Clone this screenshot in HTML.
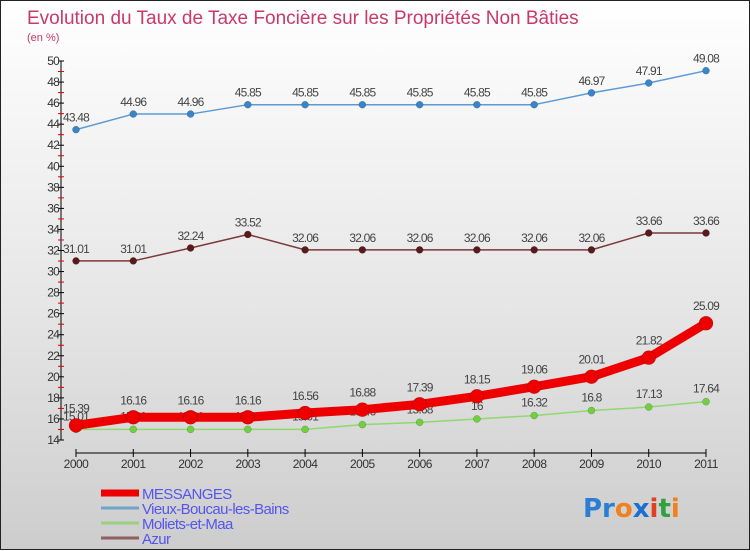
<!DOCTYPE html>
<html><head><meta charset="utf-8"><style>
body{margin:0;width:750px;height:550px;overflow:hidden;font-family:"Liberation Sans",sans-serif}
#wrap{position:relative;width:748px;height:548px;border:1px solid #222;background:linear-gradient(#ffffff 0%,#e6e6e6 55%,#cdcdcd 100%)}
svg{position:absolute;left:0;top:0}
</style></head><body>
<div id="wrap">
<svg id="chart" width="750" height="550">
<text x="26" y="23" font-size="19" fill="#c8396a">Evolution du Taux de Taxe Foncière sur les Propriétés Non Bâties</text>
<text x="26" y="40" font-size="11" fill="#c8396a">(en %)</text>
</svg>
</div>
<script>
const years=["2000","2001","2002","2003","2004","2005","2006","2007","2008","2009","2010","2011"];
const messanges=[15.39,16.16,16.16,16.16,16.56,16.88,17.39,18.15,19.06,20.01,21.82,25.09];
const vieux=[43.48,44.96,44.96,45.85,45.85,45.85,45.85,45.85,45.85,46.97,47.91,49.08];
const moliets=[15.01,15.01,15.01,15.01,15.01,15.46,15.68,16,16.32,16.8,17.13,17.64];
const azur=[31.01,31.01,32.24,33.52,32.06,32.06,32.06,32.06,32.06,32.06,33.66,33.66];
const yTicks=[14,16,18,20,22,24,26,28,30,32,34,36,38,40,42,44,46,48,50];
const seriesNames=["MESSANGES","Vieux-Boucau-les-Bains","Moliets-et-Maa","Azur"];

const svg=document.getElementById('chart');
const NS='http://www.w3.org/2000/svg';
const yMin=14,yMax=50,yTop=60,yBot=439;
const xL=75,xR=705;
const X=i=>xL+(xR-xL)*i/(years.length-1);
const Y=v=>yBot-(v-yMin)/(yMax-yMin)*(yBot-yTop);
function mk(tag,attrs,parent){const e=document.createElementNS(NS,tag);for(const k in attrs)e.setAttribute(k,attrs[k]);(parent||svg).appendChild(e);return e;}

// axes
const yAxis=mk('line',{x1:60,y1:Y(yMax),x2:60,y2:Y(yMin),stroke:'#000','stroke-width':1});


for(let v=yMin;v<yMax;v++){
  if(v%2===1){const t=mk('line',{x1:57,y1:Y(v),x2:63,y2:Y(v),stroke:'#e00000','stroke-width':1});
  
  }
}
yTicks.forEach(v=>{
  const t=mk('line',{x1:57,y1:Y(v),x2:63,y2:Y(v),stroke:'#000','stroke-width':1});
  
  
  const l=mk('text',{x:58,y:Y(v)+4,'font-size':12,'text-anchor':'end',fill:'#333','letter-spacing':'-0.8'});
  l.textContent=v;
  
  
});
const xAxis=mk('line',{x1:X(0),y1:452,x2:X(years.length-1),y2:452,stroke:'#000','stroke-width':1});


years.forEach((yr,i)=>{
  const t=mk('line',{x1:X(i),y1:448,x2:X(i),y2:456,stroke:'#000'});
  
  
  const l=mk('text',{x:X(i),y:467,'font-size':12,'text-anchor':'middle',fill:'#333','letter-spacing':'-0.5'});
  l.textContent=yr;
  
  
});

function series(data,color,lw,r,fill,name,labelOff){
  const pts=data.map((v,i)=>X(i)+','+Y(v)).join(' ');
  const pl=mk('polyline',{points:pts,fill:'none',stroke:color,'stroke-width':lw,'stroke-linejoin':'round'});
  
  
  data.forEach((v,i)=>{
    const c=mk('circle',{cx:X(i),cy:Y(v),r:r,fill:fill,stroke:'rgba(0,0,0,0.3)','stroke-width':0.5});
    
    
    const l=mk('text',{x:X(i),y:Y(v)-labelOff,'font-size':12,'text-anchor':'middle',fill:'#444','letter-spacing':'-0.8'});
    l.textContent=String(v);
    
    
  });
}
series(vieux,'#5b9bd5',1.5,3.5,'#3a85c8','vieux-boucau',8);
series(azur,'#7a3a3a',1.5,3.5,'#5a1a1a','azur',8);
series(moliets,'#90d870',1.5,3.5,'#70d040','moliets',9);
series(messanges,'#ee0000',9,7,'#ee0000','messanges',13);

// legend
const leg=[['#ee0000',7],['#6fa6c8',3],['#98d080',3],['#906060',3]];
leg.forEach((s,i)=>{
  const y=492+i*15;
  const l=mk('line',{x1:100,y1:y,x2:138,y2:y,stroke:s[0],'stroke-width':s[1]});
  
  
  const t=mk('text',{x:141,y:y+6,'font-size':15,fill:'#5555ee','letter-spacing':'-0.6'});
  t.textContent=seriesNames[i];
  
  
});
// logo
const logo=mk('text',{x:582,y:516,'font-size':26,'font-family':'"DejaVu Sans",sans-serif','font-weight':'bold'});


[['Pr','#2a7fd4'],['o','#f08020'],['x','#1a6fd0'],['i','#e04020'],['t','#30a040'],['i','#f08020']].forEach(p=>{const ts=mk('tspan',{fill:p[1]},logo);ts.textContent=p[0];});
</script>
</body></html>
